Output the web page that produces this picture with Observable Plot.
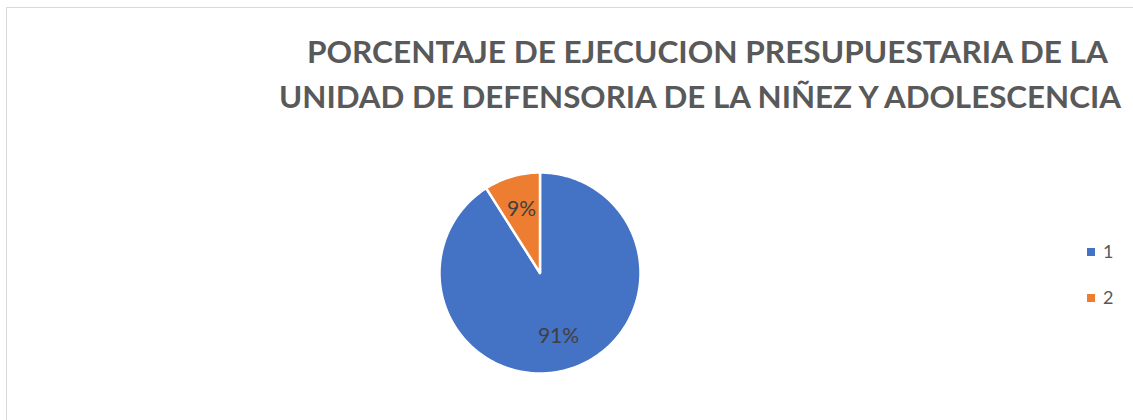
<!DOCTYPE html>
<html>
<head>
<meta charset="utf-8">
<script src="https://cdn.jsdelivr.net/npm/d3@7"></script>
<script src="https://cdn.jsdelivr.net/npm/@observablehq/plot@0.6"></script>
<style>
  html, body { margin: 0; padding: 0; background: #fff; }
  #wrap { position: relative; width: 1133px; height: 420px; overflow: hidden; font-family: Lato, "Open Sans", sans-serif; }
  #frame { position: absolute; left: 6px; top: 7px; width: 1200px; height: 500px; border-left: 1.5px solid #d9d9d9; border-top: 1.5px solid #d9d9d9; }
  #title { position: absolute; left: 0; top: 0; }
  #chart { position: absolute; left: 0; top: 0; }
  .leg { position: absolute; font-size: 18px; color: #595959; }
  .sw { position: absolute; width: 8px; height: 8px; }
</style>
</head>
<body>
<div id="wrap">
  <div id="frame"></div>
  <div id="chart"></div>
  <svg id="title" width="1133" height="130">
    <text x="307" y="63" font-family="Lato, 'Open Sans', sans-serif" font-weight="bold" font-size="31" fill="#595959" textLength="801" lengthAdjust="spacingAndGlyphs">PORCENTAJE DE EJECUCION PRESUPUESTARIA DE LA</text>
    <text x="279" y="108" font-family="Lato, 'Open Sans', sans-serif" font-weight="bold" font-size="31" fill="#595959" textLength="842" lengthAdjust="spacingAndGlyphs">UNIDAD DE DEFENSORIA DE LA NIÑEZ Y ADOLESCENCIA</text>
  </svg>
  <div id="legend"></div>
</div>
<script>
const categories = ["1", "2"];
const values = [91, 9];
const labels = ["91%", "9%"];
const colors = ["#4472C4", "#ED7D31"];

const pie = d3.pie().sort(null).startAngle(0).endAngle(2 * Math.PI)(values);
const slicePoints = [];
pie.forEach((p, i) => {
  slicePoints.push({cat: categories[i], x: 0, y: 0});
  const steps = Math.max(2, Math.ceil((p.endAngle - p.startAngle) / (Math.PI / 180)));
  for (let s = 0; s <= steps; s++) {
    const a = p.startAngle + (p.endAngle - p.startAngle) * s / steps;
    slicePoints.push({cat: categories[i], x: Math.sin(a), y: Math.cos(a)});
  }
});
const labelPts = pie.map((p, i) => {
  const a = (p.startAngle + p.endAngle) / 2;
  return {label: labels[i], x: Math.sin(a) * 0.66, y: Math.cos(a) * 0.66};
});

const plot = Plot.plot({
  width: 1133,
  height: 420,
  marginLeft: 439,
  marginRight: 493,
  marginTop: 172,
  marginBottom: 47,
  x: {domain: [-1, 1], axis: null},
  y: {domain: [-1, 1], axis: null},
  color: {domain: categories, range: colors},
  style: {background: "transparent", overflow: "visible"},
  marks: [
    Plot.line(slicePoints, {x: "x", y: "y", z: "cat", fill: "cat", stroke: "white", strokeWidth: 2.5, curve: "linear-closed"}),
    Plot.text(labelPts, {x: "x", y: "y", text: "label", fontSize: 21, fill: "#404040", fontFamily: "Lato, 'Open Sans', sans-serif"})
  ]
});
document.getElementById("chart").appendChild(plot);

const legend = document.getElementById("legend");
const legendTop = [244, 290];
categories.forEach((c, i) => {
  const sw = document.createElement("div");
  sw.className = "sw";
  sw.style.left = "1087px";
  sw.style.top = (legendTop[i] + 4) + "px";
  sw.style.background = colors[i];
  legend.appendChild(sw);
  const t = document.createElement("div");
  t.className = "leg";
  t.style.left = "1103px";
  t.style.top = (legendTop[i] - 4) + "px";
  t.textContent = c;
  legend.appendChild(t);
});
</script>
</body>
</html>
